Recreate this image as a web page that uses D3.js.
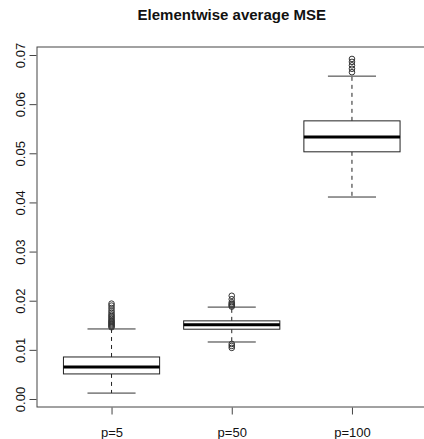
<!DOCTYPE html>
<html lang="en">
<head>
<meta charset="UTF-8">
<title>Elementwise average MSE</title>
<script src="https://cdnjs.cloudflare.com/ajax/libs/d3/7.8.0/d3.min.js"></script>
<style>
  body { margin: 0; background: #fff; }
  text { font-family: "Liberation Sans", Arial, sans-serif; fill: #111; }
</style>
</head>
<body>
<svg id="viz" width="424" height="439"></svg>
<script>
    // box summaries
    const categories = ["p=5", "p=50", "p=100"];
    const whiskerLow  = [0.0012, 0.0116, 0.0411];
    const q1          = [0.0051, 0.0142, 0.0503];
    const medians     = [0.0065, 0.0151, 0.0533];
    const q3          = [0.00855, 0.0159, 0.0566];
    const whiskerHigh = [0.01425, 0.0187, 0.0657];
    const outliers = [
        [0.0146, 0.0148, 0.0150, 0.0152, 0.0154, 0.0156, 0.0158, 0.0160, 0.0163,
         0.0166, 0.0169, 0.0172, 0.0176, 0.0180, 0.0185, 0.0190, 0.0194],
        [0.0104, 0.0108, 0.0112, 0.0188, 0.0190, 0.0192, 0.0194, 0.0197, 0.0203, 0.0210],
        [0.0665, 0.0672, 0.0679, 0.0686, 0.0692]
    ];
    const yTicks = [0, 0.01, 0.02, 0.03, 0.04, 0.05, 0.06, 0.07];

    const svg = d3.select("#viz");
    const plotLeft = 37, plotRight = 426.5, plotTop = 47, plotBottom = 407;

    // R style: xlim 0.5..3.5 plus 4%
    const x = d3.scaleLinear().domain([0.38, 3.62]).range([plotLeft, plotRight]);
    const y = d3.scaleLinear().domain([-0.00163, 0.07163]).range([plotBottom, plotTop]);

    const boxes = categories.map((c, i) => ({
        name: c, pos: i + 1,
        lo: whiskerLow[i], q1: q1[i], med: medians[i], q3: q3[i], hi: whiskerHigh[i],
        out: outliers[i]
    }));

    // frame
    svg.append("rect")
        .attr("x", plotLeft).attr("y", plotTop)
        .attr("width", plotRight - plotLeft).attr("height", plotBottom - plotTop)
        .attr("fill", "none").attr("stroke", "#444").attr("stroke-width", 1);

    // axes
    const yAxis = d3.axisLeft(y).tickValues(yTicks).tickSize(7).tickFormat(d3.format(".2f"));
    const gy = svg.append("g").attr("transform", "translate(" + (plotLeft - 0.5) + ",0)").call(yAxis);
    gy.select(".domain").remove();
    gy.selectAll(".tick line").attr("stroke", "#444");
    gy.selectAll(".tick text")
        .attr("x", null).attr("dy", null)
        .attr("text-anchor", "middle")
        .attr("transform", "translate(-11.5,0) rotate(-90)")
        .style("font-size", "13px")
        .style("font-family", "Liberation Sans, Arial, sans-serif")
        .attr("fill", "#222");

    const xAxis = d3.axisBottom(x).tickValues([1, 2, 3]).tickSize(7)
        .tickFormat(d => categories[d - 1]);
    const gx = svg.append("g").attr("transform", "translate(0," + (plotBottom + 0.5) + ")").call(xAxis);
    gx.select(".domain").remove();
    gx.selectAll(".tick line").attr("stroke", "#444");
    gx.selectAll(".tick text")
        .attr("y", 29).attr("dy", null)
        .style("font-size", "13px")
        .style("font-family", "Liberation Sans, Arial, sans-serif")
        .attr("fill", "#222");

    const bw = 0.4, cw = 0.2;
    const g = svg.append("g").selectAll("g").data(boxes).join("g");

    // dashed whiskers
    g.append("line")
        .attr("x1", d => x(d.pos)).attr("x2", d => x(d.pos))
        .attr("y1", d => y(d.q3)).attr("y2", d => y(d.hi))
        .attr("stroke", "#222").attr("stroke-dasharray", "4,4");
    g.append("line")
        .attr("x1", d => x(d.pos)).attr("x2", d => x(d.pos))
        .attr("y1", d => y(d.q1)).attr("y2", d => y(d.lo))
        .attr("stroke", "#222").attr("stroke-dasharray", "4,4");

    // caps
    ["lo", "hi"].forEach(k => {
        g.append("line")
            .attr("x1", d => x(d.pos - cw)).attr("x2", d => x(d.pos + cw))
            .attr("y1", d => y(d[k])).attr("y2", d => y(d[k]))
            .attr("stroke", "#333");
    });

    // box
    g.append("rect")
        .attr("x", d => x(d.pos - bw))
        .attr("width", d => x(d.pos + bw) - x(d.pos - bw))
        .attr("y", d => y(d.q3))
        .attr("height", d => y(d.q1) - y(d.q3))
        .attr("fill", "#fff").attr("stroke", "#222");

    // median
    g.append("line")
        .attr("x1", d => x(d.pos - bw)).attr("x2", d => x(d.pos + bw))
        .attr("y1", d => y(d.med)).attr("y2", d => y(d.med))
        .attr("stroke", "#000").attr("stroke-width", 3);

    // outliers
    g.selectAll("circle")
        .data(d => d.out.map(v => ({pos: d.pos, v: v})))
        .join("circle")
        .attr("cx", d => x(d.pos)).attr("cy", d => y(d.v))
        .attr("r", 2.8)
        .attr("fill", "none").attr("stroke", "#333").attr("stroke-width", 1);

    // title
    svg.append("text")
        .attr("x", (plotLeft + plotRight) / 2).attr("y", 20)
        .attr("text-anchor", "middle")
        .style("font-size", "15px").style("font-weight", "bold")
        .text("Elementwise average MSE");
</script>
</body>
</html>
